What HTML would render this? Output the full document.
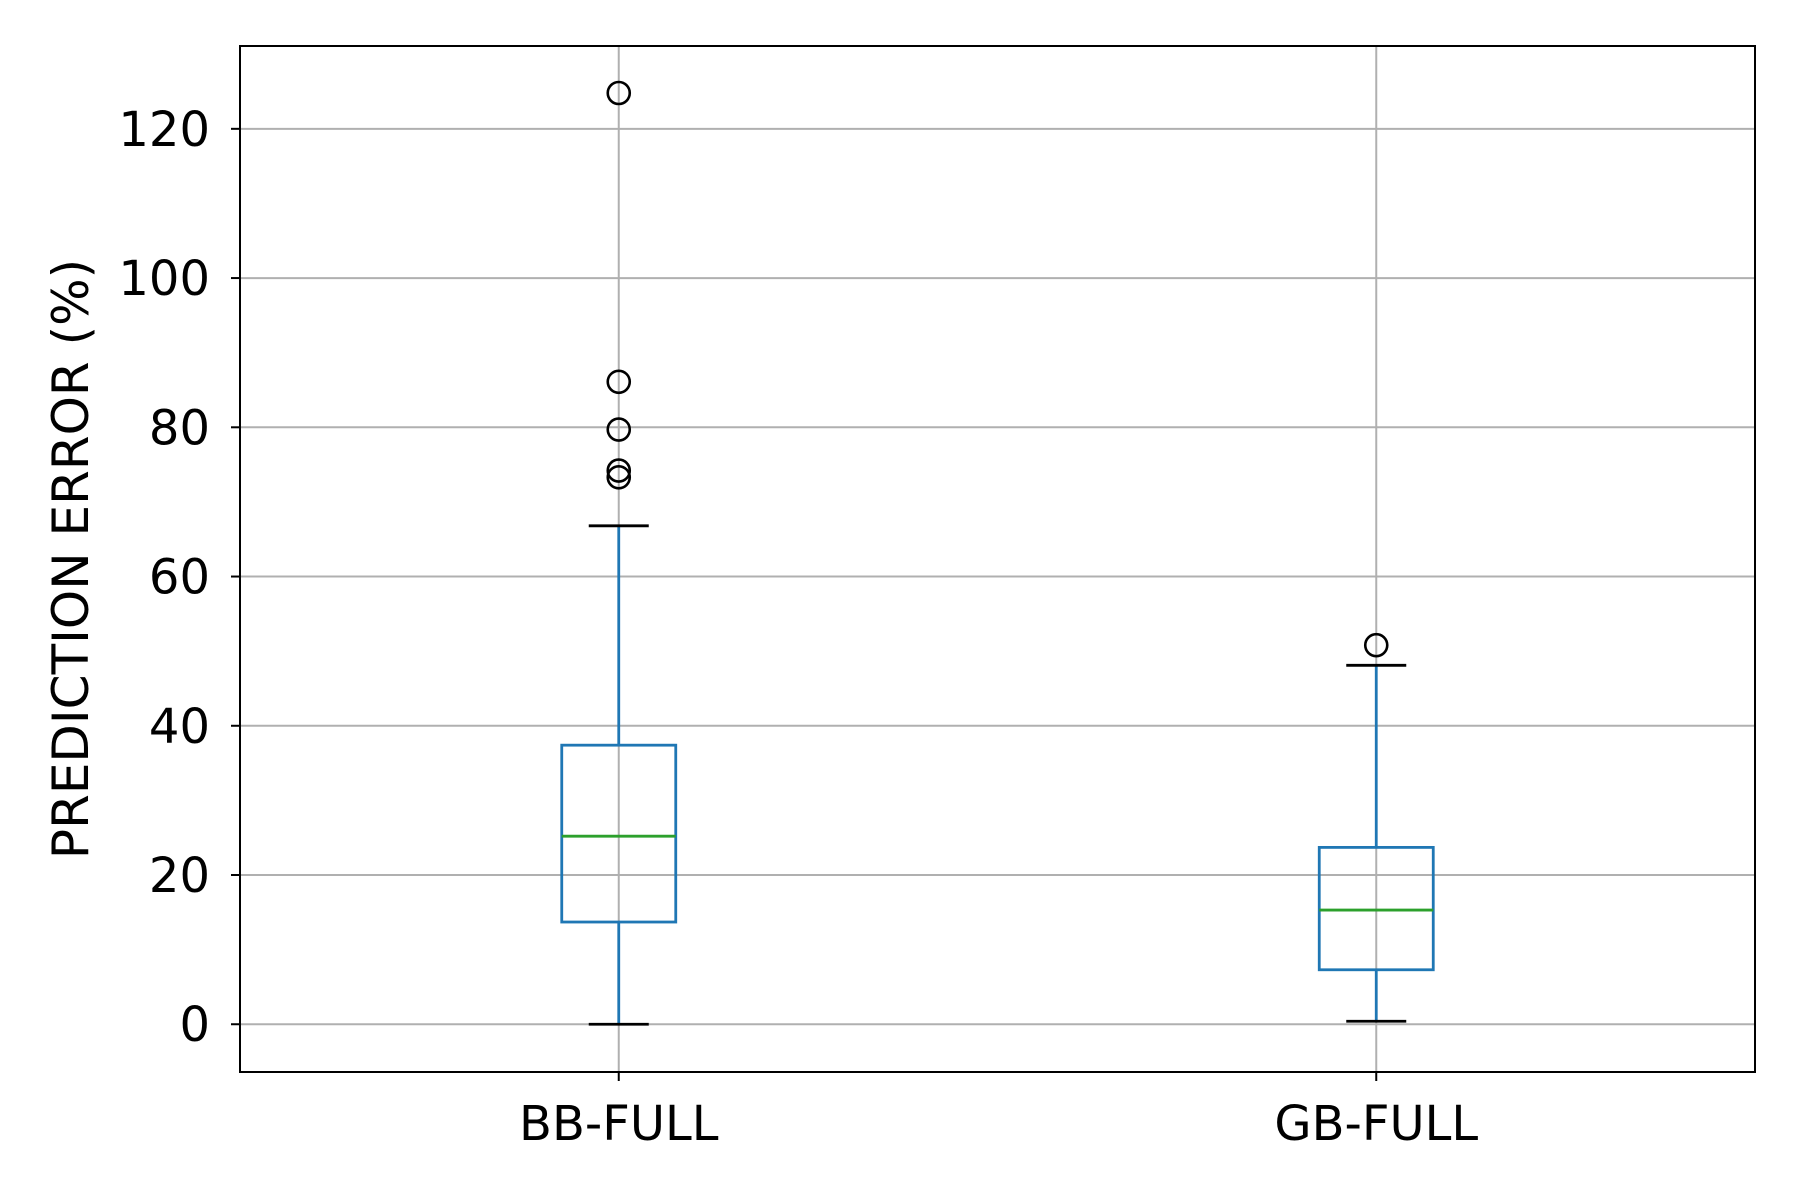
<!DOCTYPE html>
<html><head><meta charset="utf-8"><style>html,body{margin:0;padding:0;background:#fff}svg{display:block}</style></head>
<body>
<svg id="chart" width="1800" height="1200" viewBox="0 0 1800 1200" xmlns="http://www.w3.org/2000/svg" font-family="'DejaVu Sans', 'Liberation Sans', sans-serif"></svg>
<script>
const categories = ["BB-FULL", "GB-FULL"];
const whiskerLow = [0, 0.4];
const q1 = [13.7, 7.3];
const medians = [25.2, 15.3];
const q3 = [37.4, 23.7];
const whiskerHigh = [66.8, 48.1];
const fliers = [[73.3, 74.2, 79.7, 86.1, 124.8], [50.8]];
const yTicks = [0, 20, 40, 60, 80, 100, 120];

const L = 240, R = 1755, T = 46, B = 1072;
const yMin = -6.4, yMax = 131.1;
const NS = "http://www.w3.org/2000/svg";
const svg = document.getElementById('chart');
function y(v){ return B - (v - yMin) / (yMax - yMin) * (B - T); }
function x(i){ return L + (R - L) * (0.25 + 0.5 * i); }
function el(tag, attrs, parent){ const e = document.createElementNS(NS, tag); for (const k in attrs) e.setAttribute(k, attrs[k]); (parent||svg).appendChild(e); return e; }

yTicks.forEach(t => {
  const g = el('line', {x1:L, x2:R, y1:y(t), y2:y(t), stroke:'#b0b0b0', 'stroke-width':2});
  
  
  const tk = el('line', {x1:L-9, x2:L, y1:y(t), y2:y(t), stroke:'#000', 'stroke-width':2});
  
  
  const lb = el('text', {x:L-30, y:y(t)+17, 'text-anchor':'end', 'font-size':48, fill:'#000'});
  lb.textContent = t;
  
  
});
categories.forEach((c, i) => {
  const g = el('line', {x1:x(i), x2:x(i), y1:T, y2:B, stroke:'#b0b0b0', 'stroke-width':2});
  
  
  const tk = el('line', {x1:x(i), x2:x(i), y1:B, y2:B+9, stroke:'#000', 'stroke-width':2});
  
  
  const lb = el('text', {x:x(i), y:B+68, 'text-anchor':'middle', 'font-size':48, fill:'#000'});
  lb.textContent = c;
  
  
});

const hw = 57, cw = 30;
categories.forEach((c, i) => {
  const cx = x(i);
  const w1 = el('line', {x1:cx, x2:cx, y1:y(whiskerLow[i]), y2:y(q1[i]), stroke:'#1f77b4', 'stroke-width':2.8});
  
  
  const w2 = el('line', {x1:cx, x2:cx, y1:y(q3[i]), y2:y(whiskerHigh[i]), stroke:'#1f77b4', 'stroke-width':2.8});
  
  
  const c1 = el('line', {x1:cx-cw, x2:cx+cw, y1:y(whiskerLow[i]), y2:y(whiskerLow[i]), stroke:'#000', 'stroke-width':2.8});
  
  
  const c2 = el('line', {x1:cx-cw, x2:cx+cw, y1:y(whiskerHigh[i]), y2:y(whiskerHigh[i]), stroke:'#000', 'stroke-width':2.8});
  
  
  const bx = el('rect', {x:cx-hw, y:y(q3[i]), width:2*hw, height:y(q1[i])-y(q3[i]), fill:'none', stroke:'#1f77b4', 'stroke-width':2.8});
  
  
  const md = el('line', {x1:cx-hw, x2:cx+hw, y1:y(medians[i]), y2:y(medians[i]), stroke:'#2ca02c', 'stroke-width':2.8});
  
  
  fliers[i].forEach(v => {
    const f = el('circle', {cx:cx, cy:y(v), r:11, fill:'none', stroke:'#000', 'stroke-width':2.6});
    
    
  });
});

const frame = el('rect', {x:L, y:T, width:R-L, height:B-T, fill:'none', stroke:'#000', 'stroke-width':2});


const yl = el('text', {x:0, y:0, transform:'translate(88,559) rotate(-90)', 'text-anchor':'middle', 'font-size':50, fill:'#000'});
yl.textContent = 'PREDICTION ERROR (%)';


</script>
</body></html>
